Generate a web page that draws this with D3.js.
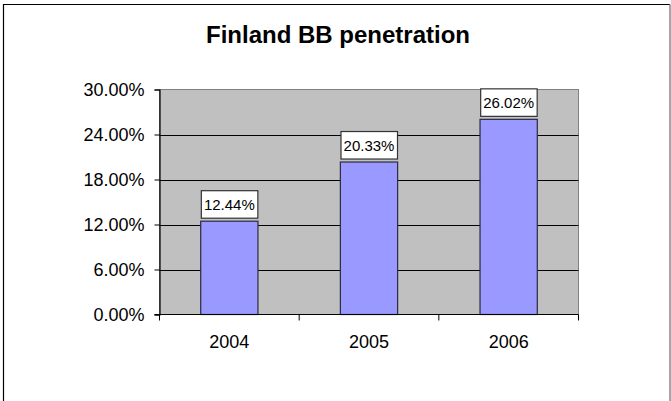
<!DOCTYPE html>
<html>
<head>
<meta charset="utf-8">
<script src="https://cdn.jsdelivr.net/npm/d3@7"></script>
<style>
  html, body { margin: 0; padding: 0; background: #fff; }
  svg { display: block; font-family: Arial, "Liberation Sans", sans-serif; }
</style>
</head>
<body>
<svg id="chart" width="671" height="401"></svg>
<script>
// Broadband penetration in Finland, per year
const years = ["2004", "2005", "2006"];
const penetration = [12.44, 20.33, 26.02];
const yTicks = [0, 6, 12, 18, 24, 30];
const title = "Finland BB penetration";

const svg = d3.select("#chart");
const W = 671, H = 401;
const plot = { left: 159.5, right: 578.5, top: 89.5, bottom: 314.5 };

// outer chart frame (bottom edge runs off the canvas)
svg.append("path")
  .attr("d", `M3.5,${H + 2} V4.5 H670`)
  .attr("fill", "none").attr("stroke", "#000").attr("stroke-width", 1.2);
svg.append("line")
  .attr("x1", 670).attr("x2", 670).attr("y1", 4.5).attr("y2", H + 2)
  .attr("stroke", "#888").attr("stroke-width", 1.5);

const x = d3.scaleBand()
  .domain(years)
  .range([plot.left, plot.right])
  .paddingInner(0.59)
  .paddingOuter(0.295);

const y = d3.scaleLinear()
  .domain([0, 30])
  .range([plot.bottom, plot.top]);

// plot background
svg.append("rect")
  .attr("x", plot.left).attr("y", plot.top)
  .attr("width", plot.right - plot.left).attr("height", plot.bottom - plot.top)
  .attr("fill", "#C0C0C0")
  .attr("stroke", "#808080").attr("stroke-width", 1);

// horizontal gridlines
svg.append("g").selectAll("line")
  .data(yTicks.filter(d => d > 0 && d < 30))
  .join("line")
  .attr("x1", plot.left).attr("x2", plot.right)
  .attr("y1", d => Math.round(y(d)) + 0.5).attr("y2", d => Math.round(y(d)) + 0.5)
  .attr("stroke", "#000").attr("stroke-width", 1);

// bars
svg.append("g").selectAll("rect")
  .data(years)
  .join("rect")
  .attr("x", d => x(d))
  .attr("y", (d, i) => y(penetration[i]))
  .attr("width", x.bandwidth())
  .attr("height", (d, i) => y(0) - y(penetration[i]))
  .attr("fill", "#9999FF")
  .attr("stroke", "#2a2a40").attr("stroke-width", 1.2);

// value labels in white boxes above bars
const labels = svg.append("g").selectAll("g")
  .data(years)
  .join("g")
  .attr("transform", (d, i) => `translate(${x(d) + x.bandwidth() / 2},${y(penetration[i]) - 17})`);
labels.append("rect")
  .attr("x", -28).attr("y", -13.5)
  .attr("width", 56.5).attr("height", 27.5)
  .attr("fill", "#fff").attr("stroke", "#333").attr("stroke-width", 1.2);
labels.append("text")
  .attr("text-anchor", "middle")
  .attr("y", 6)
  .attr("font-size", "15px")
  .attr("fill", "#000")
  .text((d, i) => penetration[i].toFixed(2) + "%");

// y axis
const yAxis = d3.axisLeft(y)
  .tickValues(yTicks)
  .tickSize(5)
  .tickPadding(10)
  .tickFormat(d => d.toFixed(2) + "%");
const gy = svg.append("g")
  .attr("transform", `translate(${plot.left},0)`)
  .call(yAxis);
gy.select(".domain").attr("stroke", "#000").attr("stroke-width", 1.2);
gy.selectAll(".tick line").attr("stroke", "#000");
gy.selectAll(".tick text")
  .attr("font-size", "18px").attr("fill", "#000")
  .attr("font-family", "Arial, 'Liberation Sans', sans-serif");

// x axis with ticks at category boundaries
const xAxis = svg.append("g");
xAxis.append("line")
  .attr("x1", plot.left - 5).attr("x2", plot.right)
  .attr("y1", plot.bottom).attr("y2", plot.bottom)
  .attr("stroke", "#000").attr("stroke-width", 1.2);
const bounds = years.map(d => x(d) - x.step() * x.paddingInner() / 2).concat([plot.right]);
bounds[0] = plot.left;
xAxis.selectAll("line.tk")
  .data(bounds)
  .join("line").attr("class", "tk")
  .attr("x1", d => d).attr("x2", d => d)
  .attr("y1", plot.bottom).attr("y2", plot.bottom + 6)
  .attr("stroke", "#000").attr("stroke-width", 1);
xAxis.selectAll("text")
  .data(years)
  .join("text")
  .attr("x", d => x(d) + x.bandwidth() / 2)
  .attr("y", 348)
  .attr("text-anchor", "middle")
  .attr("font-size", "18px")
  .attr("fill", "#000")
  .text(d => d);

// title
svg.append("text")
  .attr("x", 338).attr("y", 43)
  .attr("text-anchor", "middle")
  .attr("font-size", "24px")
  .attr("font-weight", "bold")
  .attr("fill", "#000")
  .text(title);
</script>
</body>
</html>
